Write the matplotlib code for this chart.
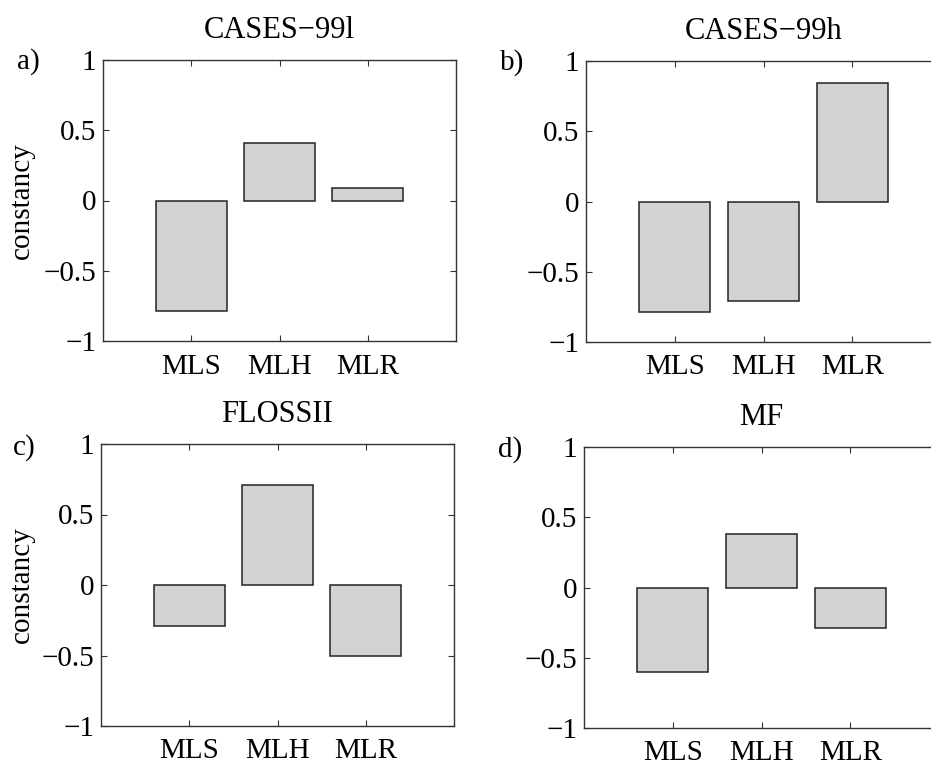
import matplotlib
matplotlib.use("Agg")
import matplotlib.pyplot as plt

# data
labels = ["MLS", "MLH", "MLR"]
titles = ["CASES\u221299l", "CASES\u221299h", "FLOSSII", "MF"]
panel_tags = ["a)", "b)", "c)", "d)"]
cases_l = [-0.79, 0.41, 0.09]
cases_h = [-0.79, -0.71, 0.84]
flossii = [-0.29, 0.71, -0.50]
mf = [-0.60, 0.38, -0.29]
yticks = [-1, -0.5, 0, 0.5, 1]
ytick_labels = ["\u22121", "\u22120.5", "0", "0.5", "1"]

W, H = 931, 765
plt.rcParams["font.family"] = ["Liberation Serif", "DejaVu Serif"]
plt.rcParams["font.size"] = 21

fig = plt.figure(figsize=(W / 100, H / 100), dpi=100)


def add_axes_px(left, top, width, height):
    return fig.add_axes([left / W, 1 - (top + height) / H, width / W, height / H])


# (left, top, width, height) in pixels; right column runs off the page
boxes = [(103, 60, 353, 281), (586, 61, 355, 281),
         (101, 444, 353, 282), (584, 447, 355, 281)]
series = [cases_l, cases_h, flossii, mf]
tag_pos = [(17, 69), (500, 70), (13, 455), (498, 457)]

for i, (box, vals) in enumerate(zip(boxes, series)):
    ax = add_axes_px(*box)
    x = [1, 2, 3]
    ax.bar(x, vals, width=0.8, color="#d2d2d2", edgecolor="#222222", linewidth=1.1)
    ax.set_xlim(0, 4)
    ax.set_ylim(-1, 1)
    ax.set_xticks(x)
    ax.set_xticklabels(labels)
    ax.set_yticks(yticks)
    ax.set_yticklabels(ytick_labels)
    ax.tick_params(direction="in", top=True, right=True, length=4, width=0.8,
                   color="#333333")
    ax.tick_params(axis="x", pad=9)
    ax.tick_params(axis="y", pad=5)
    for sp in ax.spines.values():
        sp.set_linewidth(1.0)
        sp.set_color("#333333")
    ax.set_title(titles[i], pad=16, fontsize=22)
    if i % 2 == 0:
        ax.set_ylabel("constancy")
        ax.yaxis.set_label_coords((35 - box[0]) / box[2], 0.5)
    tx, ty = tag_pos[i]
    fig.text(tx / W, 1 - ty / H, panel_tags[i], va="baseline", ha="left")

fig.savefig("out.png", dpi=100)
